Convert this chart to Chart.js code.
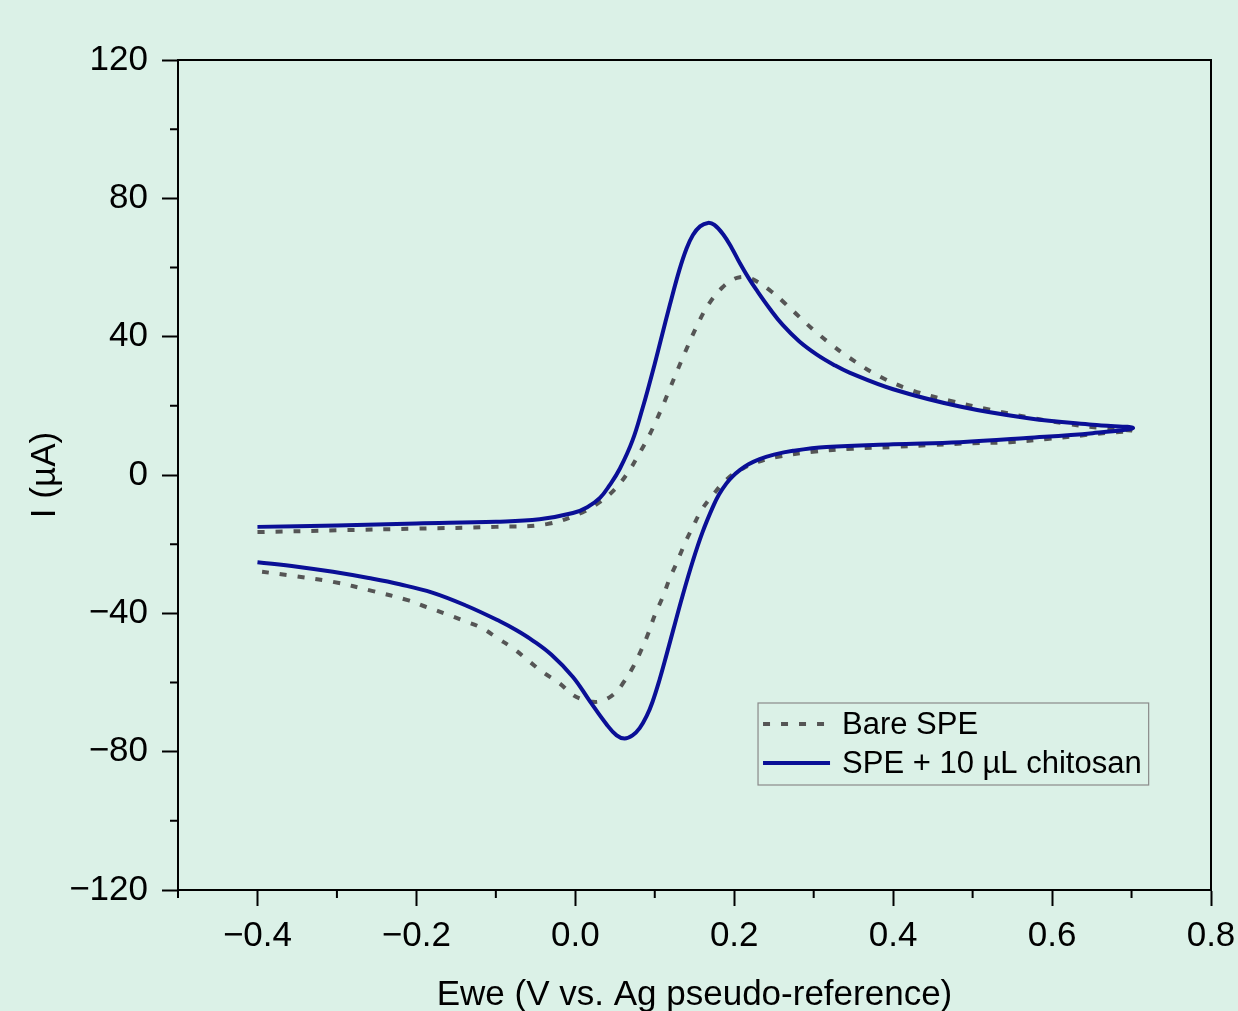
<!DOCTYPE html>
<html>
<head>
<meta charset="utf-8">
<script src="https://cdn.jsdelivr.net/npm/chart.js@4.4.1/dist/chart.umd.min.js"></script>
<style>
  html, body { margin: 0; padding: 0; background: #dbf1e7; }
  canvas { display: block; }
</style>
</head>
<body>
<canvas id="cvChart" width="1238" height="1011"></canvas>
<script>
// Bare SPE: forward scan then reverse scan
const bareV = [-0.40, -0.30, -0.20, -0.10, -0.036, 0.009, 0.031, 0.049, 0.066, 0.078, 0.090, 0.100, 0.110, 0.119, 0.138, 0.157, 0.169, 0.184, 0.196, 0.207, 0.218, 0.228, 0.247, 0.264, 0.282, 0.301, 0.324, 0.343, 0.383, 0.425, 0.471, 0.522, 0.568, 0.619, 0.669, 0.702,
  0.669, 0.644, 0.594, 0.547, 0.500, 0.450, 0.400, 0.349, 0.299, 0.253, 0.230, 0.207, 0.190, 0.173, 0.159, 0.148, 0.138, 0.128, 0.119, 0.110, 0.100, 0.092, 0.083, 0.072, 0.060, 0.052, 0.043, 0.032, 0.022, 0.010, -0.003, -0.020, -0.041, -0.060, -0.079, -0.098, -0.118, -0.142, -0.165, -0.187, -0.211, -0.256, -0.305, -0.351, -0.400];
const bareI = [-16.5, -16.0, -15.5, -15.0, -14.2, -10.8, -7.8, -4.3, 0.6, 5.2, 10.1, 14.8, 20.0, 25.0, 35.4, 45.0, 49.8, 54.0, 56.2, 57.2, 57.0, 56.0, 53.0, 49.6, 45.7, 41.7, 37.4, 34.2, 28.5, 24.4, 21.5, 18.9, 16.8, 14.8, 13.4, 12.8,
  12.2, 11.6, 10.4, 9.5, 9.2, 8.7, 8.1, 7.6, 6.7, 5.2, 3.8, 1.4, -1.4, -5.8, -10.1, -15.0, -19.7, -25.2, -29.8, -35.3, -40.5, -45.7, -50.6, -55.8, -60.2, -62.6, -64.3, -65.4, -65.6, -65.0, -63.6, -60.2, -57.0, -53.5, -50.0, -47.2, -44.2, -42.0, -40.0, -38.2, -36.2, -33.5, -30.9, -29.3, -27.8];

// SPE + 10 µL chitosan
const chitV = [-0.40, -0.30, -0.20, -0.10, -0.045, -0.003, 0.015, 0.031, 0.043, 0.056, 0.072, 0.085, 0.092, 0.100, 0.108, 0.119, 0.131, 0.140, 0.148, 0.157, 0.167, 0.175, 0.186, 0.197, 0.207, 0.218, 0.228, 0.245, 0.261, 0.282, 0.304, 0.325, 0.345, 0.400, 0.484, 0.568, 0.651, 0.702,
  0.651, 0.568, 0.484, 0.400, 0.316, 0.274, 0.250, 0.232, 0.218, 0.207, 0.198, 0.190, 0.181, 0.173, 0.160, 0.148, 0.135, 0.123, 0.115, 0.106, 0.097, 0.090, 0.081, 0.072, 0.062, 0.052, 0.039, 0.018, -0.003, -0.030, -0.054, -0.074, -0.095, -0.137, -0.180, -0.221, -0.260, -0.305, -0.350, -0.400];
const chitI = [-15.0, -14.6, -14.0, -13.5, -12.8, -11.0, -9.3, -6.6, -3.0, 1.8, 10.0, 19.6, 25.3, 32.2, 39.4, 49.2, 59.3, 65.5, 69.4, 71.9, 72.9, 72.3, 69.6, 65.6, 61.3, 57.0, 53.5, 48.0, 43.4, 38.6, 34.8, 31.9, 29.6, 24.8, 19.8, 16.5, 14.5, 13.6,
  12.1, 10.7, 9.5, 8.9, 8.1, 7.0, 5.9, 4.6, 3.1, 1.4, -0.4, -2.5, -5.6, -9.3, -16.6, -24.8, -34.9, -45.0, -51.8, -59.2, -65.7, -69.6, -73.2, -75.3, -76.2, -75.3, -72.0, -65.3, -58.4, -52.0, -47.8, -44.9, -42.3, -37.8, -34.0, -31.6, -29.8, -28.0, -26.5, -25.2];

const seriesLabels = ['Bare SPE', 'SPE + 10 µL chitosan'];

const xMajorTicks = [-0.4, -0.2, 0.0, 0.2, 0.4, 0.6, 0.8];
const xMinorTicks = [-0.5, -0.3, -0.1, 0.1, 0.3, 0.5, 0.7];
const yMajorTicks = [-120, -80, -40, 0, 40, 80, 120];
const yMinorTicks = [-100, -60, -20, 20, 60, 100];

const FONT = "'Liberation Sans', Arial, sans-serif";
Chart.defaults.font.family = FONT;
Chart.defaults.color = '#000';

function toPoints(xs, ys) {
  return xs.map((x, i) => ({ x: x, y: ys[i] }));
}
function minus(s) {
  return String(s).replace('-', '\u2212');
}

const bgPlugin = {
  id: 'bg',
  beforeDraw(chart) {
    const c = chart.ctx;
    c.save();
    c.fillStyle = '#dbf1e7';
    c.fillRect(0, 0, chart.width, chart.height);
    c.restore();
  }
};

// frame, minor ticks and the boxed legend
const extrasPlugin = {
  id: 'extras',
  afterDraw(chart) {
    const c = chart.ctx;
    const a = chart.chartArea;
    const xs = chart.scales.x, ys = chart.scales.y;
    c.save();
    c.strokeStyle = '#000';
    c.lineWidth = 2;
    c.strokeRect(a.left, a.top, a.right - a.left, a.bottom - a.top);

    c.beginPath();
    xMinorTicks.forEach(v => {
      const px = xs.getPixelForValue(v);
      c.moveTo(px, a.bottom);
      c.lineTo(px, a.bottom + 8);
    });
    yMinorTicks.forEach(v => {
      const py = ys.getPixelForValue(v);
      c.moveTo(a.left, py);
      c.lineTo(a.left - 8, py);
    });
    c.stroke();

    // legend
    const w = a.right - a.left, h = a.bottom - a.top;
    const bx = a.left + w * 0.5615, by = a.top + h * 0.7747;
    c.font = '31px ' + FONT;
    const tw = Math.max(...seriesLabels.map(t => c.measureText(t).width));
    const bw = 84 + tw + 7, bh = 82;
    c.strokeStyle = '#8a8a8a';
    c.lineWidth = 1.2;
    c.strokeRect(bx, by, bw, bh);
    chart.data.datasets.forEach((ds, i) => {
      const cy = by + 21 + i * 39;
      c.beginPath();
      c.strokeStyle = ds.borderColor;
      c.lineWidth = ds.borderWidth;
      c.setLineDash(ds.borderDash || []);
      c.moveTo(bx + 5, cy);
      c.lineTo(bx + 72, cy);
      c.stroke();
      c.setLineDash([]);
      c.fillStyle = '#000';
      c.textBaseline = 'middle';
      c.textAlign = 'left';
      c.fillText(ds.label, bx + 84, cy + 1);
    });
    c.restore();
  }
};

new Chart(document.getElementById('cvChart'), {
  type: 'scatter',
  data: {
    datasets: [{
      label: seriesLabels[0],
      data: toPoints(bareV, bareI),
      showLine: true,
      borderColor: '#555555',
      borderWidth: 4,
      borderDash: [7, 11],
      borderCapStyle: 'butt',
      pointRadius: 0,
      tension: 0.4,
      order: 2
    }, {
      label: seriesLabels[1],
      data: toPoints(chitV, chitI),
      showLine: true,
      borderColor: '#0a0f96',
      borderWidth: 4,
      pointRadius: 0,
      tension: 0.4,
      order: 1
    }]
  },
  options: {
    responsive: false,
    animation: false,
    layout: { padding: { left: 0, top: 60, right: 27, bottom: 0 } },
    plugins: {
      legend: { display: false },
      tooltip: { enabled: false }
    },
    scales: {
      x: {
        type: 'linear',
        min: -0.5,
        max: 0.8,
        afterBuildTicks: s => { s.ticks = xMajorTicks.map(v => ({ value: v })); },
        afterFit: s => { s.height = 121; s.paddingLeft = 0; s.paddingRight = 0; },
        ticks: {
          font: { size: 35 },
          padding: 9,
          maxRotation: 0,
          callback: v => minus(Number(v).toFixed(1))
        },
        grid: { drawOnChartArea: false, tickLength: 16, tickWidth: 2, tickColor: '#000' },
        border: { display: true, color: '#000', width: 2 },
        title: {
          display: true,
          text: 'Ewe (V vs. Ag pseudo-reference)',
          font: { size: 35, lineHeight: 0.88 },
          padding: { top: 0, bottom: 0 }
        }
      },
      y: {
        type: 'linear',
        min: -120,
        max: 120,
        afterBuildTicks: s => { s.ticks = yMajorTicks.map(v => ({ value: v })); },
        afterFit: s => { s.width = 178; },
        ticks: {
          font: { size: 35 },
          padding: 14,
          callback: v => minus(v)
        },
        grid: { drawOnChartArea: false, tickLength: 16, tickWidth: 2, tickColor: '#000' },
        border: { display: true, color: '#000', width: 2 },
        title: {
          display: true,
          text: 'I (µA)',
          font: { size: 35 },
          padding: { top: 24, bottom: 0 }
        }
      }
    }
  },
  plugins: [bgPlugin, extrasPlugin]
});
</script>
</body>
</html>
